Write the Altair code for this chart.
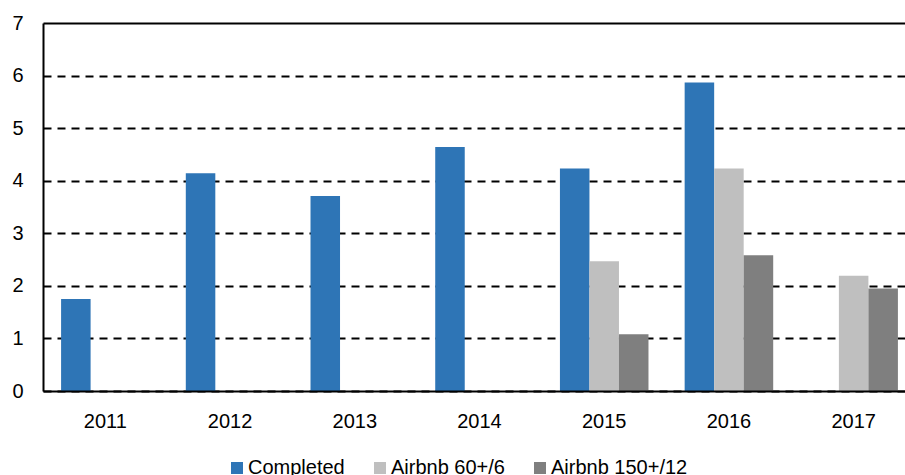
import altair as alt
import pandas as pd

# Categories and series
years = ["2011", "2012", "2013", "2014", "2015", "2016", "2017"]
series = ["Completed", "Airbnb 60+/6", "Airbnb 150+/12"]
colors = ["#2E75B6", "#BFBFBF", "#7F7F7F"]

completed = [1.75, 4.14, 3.71, 4.64, 4.23, 5.87, None]
airbnb_60 = [None, None, None, None, 2.47, 4.23, 2.19]
airbnb_150 = [None, None, None, None, 1.08, 2.58, 1.95]

y_ticks = [0, 1, 2, 3, 4, 5, 6, 7]

rows = []
for name, vals in zip(series, [completed, airbnb_60, airbnb_150]):
    for yr, v in zip(years, vals):
        if v is not None:
            rows.append({"year": yr, "series": name, "value": v})
df = pd.DataFrame(rows)

FONT = "Liberation Sans"

chart = (
    alt.Chart(df)
    .mark_bar()
    .encode(
        x=alt.X(
            "year:N",
            sort=years,
            scale=alt.Scale(domain=years, range=[0, 873], paddingInner=0.29, paddingOuter=0.145),
            axis=alt.Axis(
                title=None,
                labelAngle=0,
                ticks=False,
                domainColor="#000000",
                domainWidth=2,
                labelPadding=20,
                labelFont=FONT,
                labelFontSize=20,
                labelColor="#000000",
                zindex=1,
            ),
        ),
        xOffset=alt.XOffset(
            "series:N",
            sort=series,
            scale=alt.Scale(domain=series, paddingInner=0, paddingOuter=0),
        ),
        y=alt.Y(
            "value:Q",
            scale=alt.Scale(domain=[0, 7], nice=False),
            axis=alt.Axis(
                title=None,
                values=y_ticks,
                ticks=False,
                grid=True,
                gridColor="#000000",
                gridWidth=2,
                gridDash={"condition": {"test": "datum.value === 7", "value": []}, "value": [8, 6]},
                domainColor="#000000",
                domainWidth=2,
                labelPadding=20,
                labelFont=FONT,
                labelFontSize=20,
                labelColor="#000000",
            ),
        ),
        color=alt.Color(
            "series:N",
            sort=series,
            scale=alt.Scale(domain=series, range=colors),
            legend=alt.Legend(
                title=None,
                orient="none",
                legendX=184,
                legendY=435,
                direction="horizontal",
                symbolType="square",
                symbolSize=144,
                symbolStrokeWidth=0,
                labelFont=FONT,
                labelFontSize=20,
                labelColor="#000000",
                labelOffset=1,
                columnPadding=25,
                padding=0,
            ),
        ),
    )
    .properties(
        width=862,
        height=368,
        padding={"left": 43, "top": 23, "right": 0, "bottom": 84},
        autosize=alt.AutoSizeParams(type="none"),
        background="#FFFFFF",
    )
    .configure_view(stroke=None)
)

chart.save("out.html", embed_options={"renderer": "svg", "actions": False})
